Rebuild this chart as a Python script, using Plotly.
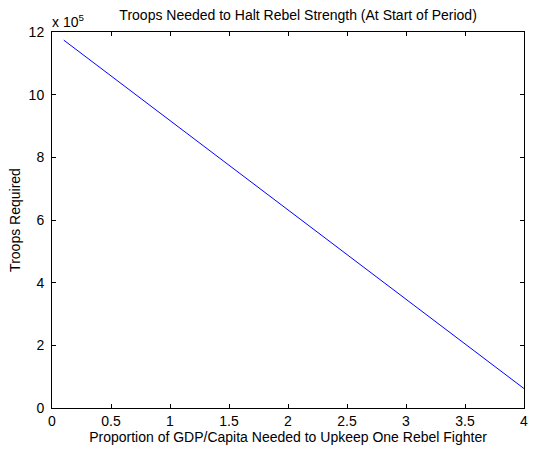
import plotly.graph_objects as go

# Share of GDP per capita required to keep one rebel fighter in the field
gdp_share = [0.1, 4.0]
# Troops needed to halt rebel strength at the start of the period
troops_required = [1174000, 62000]

x_ticks = [0, 0.5, 1, 1.5, 2, 2.5, 3, 3.5, 4]
x_tick_labels = ["0", "0.5", "1", "1.5", "2", "2.5", "3", "3.5", "4"]
y_ticks = [0, 200000, 400000, 600000, 800000, 1000000, 1200000]
y_tick_labels = ["0", "2", "4", "6", "8", "10", "12"]

font_family = "Liberation Sans, Arial, Helvetica, sans-serif"
fs = 14

axis_common = dict(
    showgrid=False,
    zeroline=False,
    showline=True,
    linecolor="black",
    linewidth=1,
    mirror="ticks",
    ticks="inside",
    ticklen=4,
    tickcolor="black",
    tickfont=dict(family=font_family, size=fs, color="black"),
)

fig = go.Figure()
fig.add_trace(go.Scatter(
    x=gdp_share,
    y=troops_required,
    mode="lines",
    line=dict(color="#0000ff", width=1),
    showlegend=False,
    hoverinfo="skip",
))

fig.update_xaxes(
    range=[0, 4],
    tickvals=x_ticks,
    ticktext=x_tick_labels,
    title=dict(text="Proportion of GDP/Capita Needed to Upkeep One Rebel Fighter",
               font=dict(family=font_family, size=fs, color="black"), standoff=0),
    **axis_common,
)
fig.update_yaxes(
    range=[0, 1200000],
    tickvals=y_ticks,
    ticktext=y_tick_labels,
    ticklabelstandoff=4,
    title=dict(text="Troops Required",
               font=dict(family=font_family, size=fs, color="black"), standoff=4),
    **axis_common,
)

fig.add_annotation(
    text="x 10<sup>5</sup>",
    xref="paper", yref="paper",
    x=0, y=1,
    xanchor="left", yanchor="bottom",
    xshift=-2, yshift=0,
    showarrow=False,
    font=dict(family=font_family, size=fs, color="black"),
)

fig.update_layout(
    width=540,
    height=466,
    margin=dict(l=52, r=12, t=32, b=58),
    paper_bgcolor="white",
    plot_bgcolor="white",
    title=dict(
        text="Troops Needed to Halt Rebel Strength (At Start of Period)",
        font=dict(family=font_family, size=fs, color="black"),
        x=0.552, xanchor="center",
        y=1 - 15 / 466, yanchor="middle",
    ),
)

fig.write_html("out.html")
